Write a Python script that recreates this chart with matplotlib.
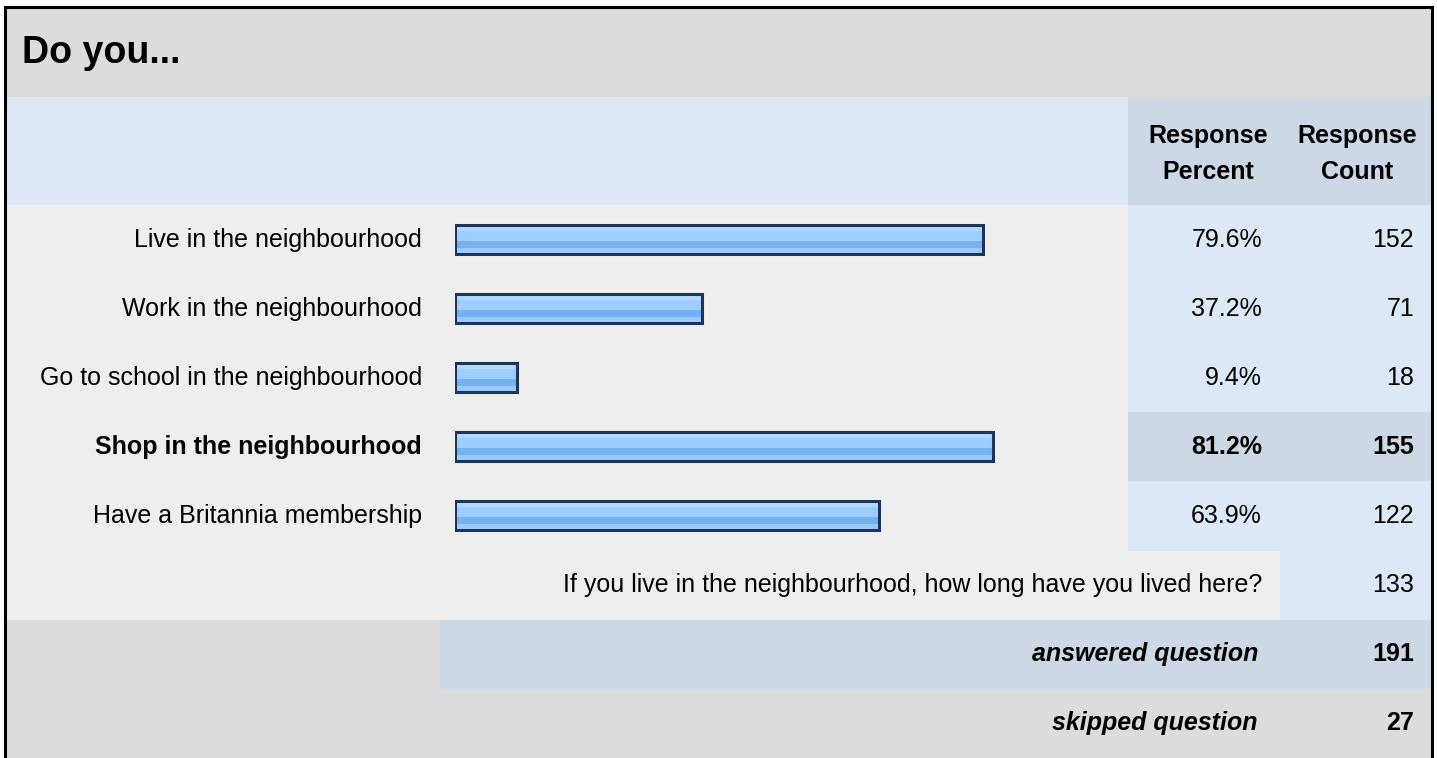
"""Survey summary table: Do you..."""
import numpy as np
import matplotlib.pyplot as plt
from matplotlib.patches import Rectangle

plt.rcParams['font.family'] = ['Liberation Sans', 'DejaVu Sans']

# survey answers
answers = ['Live in the neighbourhood', 'Work in the neighbourhood',
           'Go to school in the neighbourhood', 'Shop in the neighbourhood',
           'Have a Britannia membership']
percents = [79.6, 37.2, 9.4, 81.2, 63.9]
counts = [152, 71, 18, 155, 122]
highlight = 3  # row shown in bold

open_question = 'If you live in the neighbourhood, how long have you lived here?'
open_count = 133
answered = 191
skipped = 27

W, H = 1437, 758
fig = plt.figure(figsize=(W / 100, H / 100), dpi=100)
fig.patch.set_facecolor('white')

# background layer in pixel units
bg = fig.add_axes([0, 0, 1, 1])
bg.set_xlim(0, W)
bg.set_ylim(H, 0)
bg.axis('off')


def box(x0, y0, x1, y1, color):
    bg.add_patch(Rectangle((x0, y0), x1 - x0, y1 - y0, facecolor=color,
                           edgecolor='none', zorder=0))


GREY = '#DCDCDC'
LIGHT = '#EEEEEE'
BLUE = '#DCE8F5'
BLUE2 = '#CCD8E6'
FS = 18

L, R = 5, 1432
col_pct, col_cnt = 1128, 1280
row_top, row_h = 205, 69.1

# title bar and header
box(L, 7, R, 97, GREY)
box(L, 97, R, 205, BLUE)
box(col_pct, 97, R, 205, BLUE2)
bg.text(22, 53, 'Do you...', fontsize=27, fontweight='bold', va='center')
bg.text(1208, 154, 'Response\nPercent', fontsize=FS, fontweight='bold',
        ha='center', va='center', linespacing=1.65)
bg.text(1357, 154, 'Response\nCount', fontsize=FS, fontweight='bold',
        ha='center', va='center', linespacing=1.65)

# answer rows
for i, (name, pct, n) in enumerate(zip(answers, percents, counts)):
    y0 = row_top + i * row_h
    yc = y0 + row_h / 2
    box(L, y0, col_pct, y0 + row_h, LIGHT)
    box(col_pct, y0, R, y0 + row_h, BLUE2 if i == highlight else BLUE)
    w = 'bold' if i == highlight else 'normal'
    bg.text(422, yc, name, fontsize=FS, fontweight=w, ha='right', va='center')
    bg.text(1262, yc, f'{pct:.1f}%', fontsize=FS, fontweight=w,
            ha='right', va='center')
    bg.text(1414, yc, str(n), fontsize=FS, fontweight=w,
            ha='right', va='center')

# open-ended question row
y0 = row_top + 5 * row_h
box(L, y0, col_cnt, y0 + row_h, LIGHT)
box(col_cnt, y0, R, y0 + row_h, BLUE)
bg.text(1262, y0 + row_h / 2, open_question, fontsize=FS,
        ha='right', va='center')
bg.text(1414, y0 + row_h / 2, str(open_count), fontsize=FS,
        ha='right', va='center')

# answered / skipped
y0 = row_top + 6 * row_h
box(L, y0, R, H, GREY)
box(440, y0, R, y0 + row_h, BLUE2)
for k, (label, val) in enumerate([('answered question', answered),
                                  ('skipped question', skipped)]):
    yc = y0 + row_h * (k + 0.5)
    bg.text(1258, yc, label, fontsize=FS, fontweight='bold',
            style='italic', ha='right', va='center')
    bg.text(1414, yc, str(val), fontsize=FS, fontweight='bold',
            ha='right', va='center')

# outer frame
bg.plot([L, L], [7, H], color='black', lw=2.2, zorder=5)
bg.plot([R, R], [7, H], color='black', lw=2.2, zorder=5)
bg.plot([L, R], [7, 7], color='black', lw=2.2, zorder=5)

# bars, 0-100 %
ax = fig.add_axes([455 / W, 1 - (row_top + 5 * row_h) / H,
                   663 / W, 5 * row_h / H])
ax.patch.set_alpha(0)
ax.axis('off')

shade = ['#C8E4FF'] * 3 + ['#B4D9FF'] * 3 + ['#9ECEFF'] * 9 + \
        ['#76B1F2'] * 7 + ['#9ACBFF'] * 5
grad = np.array([[plt.matplotlib.colors.to_rgb(c)] for c in shade])
bar_h = 0.42
for i, pct in enumerate(percents):
    ax.imshow(grad, extent=[0, pct, i + bar_h / 2, i - bar_h / 2],
              aspect='auto', interpolation='nearest', zorder=1)
ax.barh(range(len(percents)), percents, height=bar_h, fill=False,
        edgecolor='#1F3558', linewidth=2.2, zorder=2)
ax.set_xlim(0, 100)
ax.set_ylim(4.5, -0.5)

fig.savefig('out.png', dpi=100)
